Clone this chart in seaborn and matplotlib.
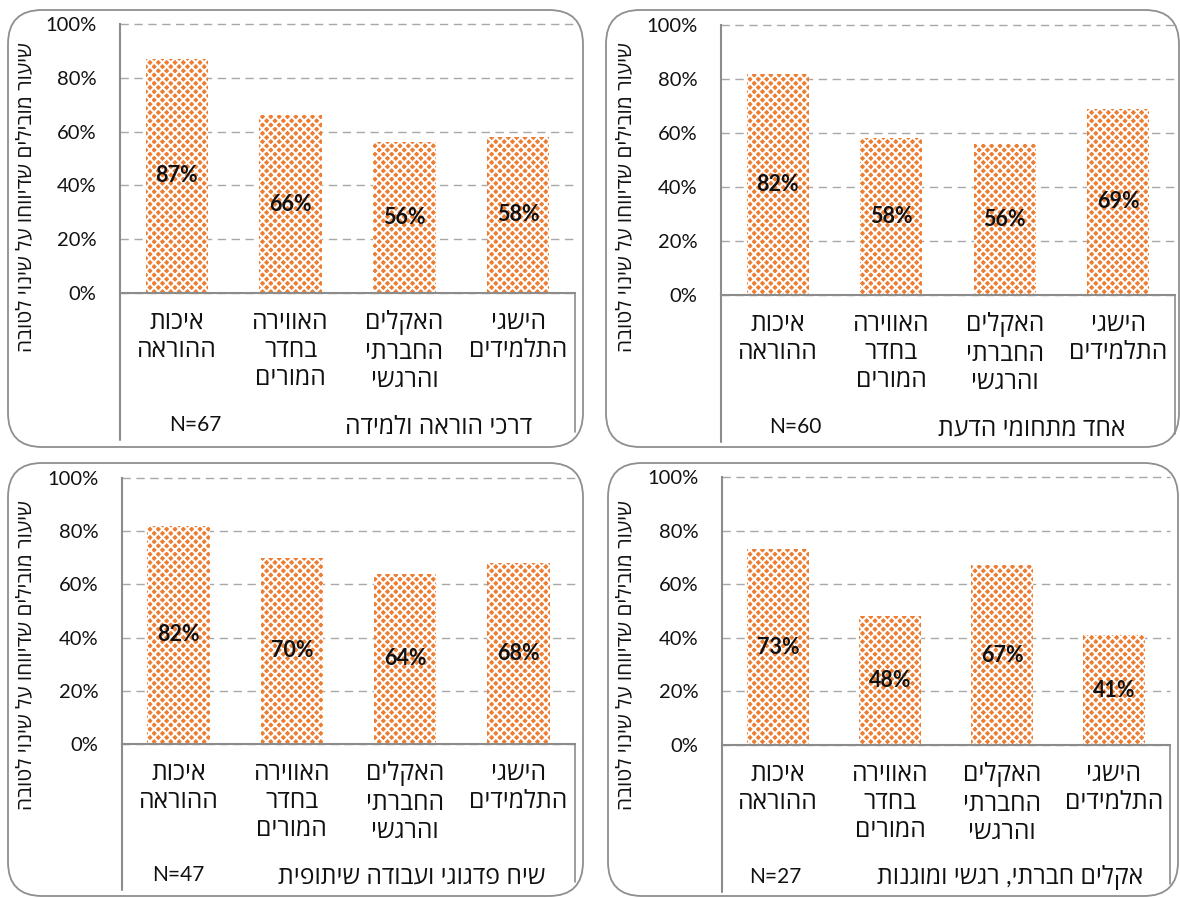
import matplotlib
matplotlib.use("Agg")
import matplotlib.pyplot as plt
import seaborn as sns
import pandas as pd
from matplotlib.patches import FancyBboxPatch
from matplotlib.lines import Line2D
from matplotlib.transforms import IdentityTransform
from matplotlib.ticker import PercentFormatter

# ---- data ----
categories = ["איכות\nההוראה", "האווירה\nבחדר\nהמורים", "האקלים\nהחברתי\nוהרגשי", "הישגי\nהתלמידים"]
panel_titles = ["דרכי הוראה ולמידה", "אחד מתחומי הדעת", "שיח פדגוגי ועבודה שיתופית", "אקלים חברתי, רגשי ומוגנות"]
panel_n = [67, 60, 47, 27]
vals_teaching = [0.87, 0.66, 0.56, 0.58]
vals_subject = [0.82, 0.58, 0.56, 0.69]
vals_dialogue = [0.82, 0.70, 0.64, 0.68]
vals_climate = [0.73, 0.48, 0.67, 0.41]
y_label = "שיעור מובילים שדיווחו על שינוי לטובה"
y_ticks = [0.0, 0.2, 0.4, 0.6, 0.8, 1.0]

panel_values = [vals_teaching, vals_subject, vals_dialogue, vals_climate]


def rtl(text):
    """matplotlib lays text out left-to-right; reverse each Hebrew line."""
    return "\n".join(line[::-1] for line in text.split("\n"))


sns.set_theme(style="white")
plt.rcParams["font.family"] = ["Lato", "Open Sans", "Liberation Sans", "DejaVu Sans"]
plt.rcParams["hatch.linewidth"] = 1.5

W, H = 1180, 898
fig = plt.figure(figsize=(W / 100, H / 100), dpi=100)
fig.patch.set_facecolor("white")

BAR = "#ED7D31"
SPINE = "#8C8C8C"
FRAME = "#8F8F8F"
TEXT = "#111111"
HEB_SIZE = 17.8

# layout of each panel in pixels (left, top, right, bottom)
layout = [
    dict(ax=(120, 24, 575, 293), box=(8, 10, 583, 447), tbottom=440, n_x=195, t_right=532, foot_y=425, ylab=(25, 197)),
    dict(ax=(721, 25, 1175, 295), box=(606, 10, 1179, 447), tbottom=442, n_x=795, t_right=1125, foot_y=427, ylab=(625, 197)),
    dict(ax=(122, 478, 575, 744), box=(8, 463, 583, 896), tbottom=890, n_x=178, t_right=545, foot_y=875, ylab=(25, 655)),
    dict(ax=(722, 477, 1170, 745), box=(608, 463, 1178, 896), tbottom=892, n_x=775, t_right=1143, foot_y=877, ylab=(625, 655)),
]


def fx(x):
    return x / W


def fy(y):
    return 1 - y / H


for vals, title, n, lay in zip(panel_values, panel_titles, panel_n, layout):
    # rounded frame around the panel
    bx0, by0, bx1, by1 = lay["box"]
    frame = FancyBboxPatch((bx0, H - by1), bx1 - bx0, by1 - by0,
                           boxstyle="round,pad=0,rounding_size=34",
                           transform=IdentityTransform(), facecolor="white",
                           edgecolor=FRAME, linewidth=1.3, zorder=0)
    fig.add_artist(frame)

    l, t, r, b = lay["ax"]
    ax = fig.add_axes([fx(l), fy(b), fx(r) - fx(l), (b - t) / H])
    ax.set_facecolor("none")

    df = pd.DataFrame({"cat": [rtl(c) for c in categories], "val": vals})
    sns.barplot(data=df, x="cat", y="val", ax=ax, color=BAR, width=0.55,
                saturation=1, linewidth=0, edgecolor="white")
    for p in ax.patches:
        p.set_hatch("xxxx")
        p.set_edgecolor("white")
        p.set_linewidth(0)
        p.set_facecolor(BAR)

    for p, v in zip(ax.patches, vals):
        ax.text(p.get_x() + p.get_width() / 2, v / 2, f"{round(v * 100)}%",
                ha="center", va="center", fontsize=15.5, fontweight="bold",
                color=TEXT, family=["Lato", "DejaVu Sans"])

    ax.set_ylim(0, 1)
    ax.set_yticks(y_ticks)
    ax.yaxis.set_major_formatter(PercentFormatter(1.0, decimals=0))
    ax.tick_params(axis="y", length=0, pad=17, labelsize=14.5, labelcolor=TEXT)
    ax.tick_params(axis="x", length=0, pad=12, labelsize=HEB_SIZE, labelcolor=TEXT)
    for lab in ax.get_xticklabels():
        lab.set_linespacing(1.27)
        lab.set_multialignment("center")
    ax.set_xlabel("")
    ax.set_ylabel("")

    ax.yaxis.grid(True, linestyle=(0, (6, 4)), color="#A8A8A8", linewidth=1)
    for gl in ax.get_ygridlines():
        gl.set_clip_on(False)
    ax.set_axisbelow(True)

    for side in ["top", "right"]:
        ax.spines[side].set_visible(False)
    for side in ["left", "bottom"]:
        ax.spines[side].set_color(SPINE)
        ax.spines[side].set_linewidth(1.5)

    # category table below the bars
    fig.add_artist(Line2D([fx(l), fx(l)], [fy(b), fy(lay["tbottom"])],
                          color=SPINE, linewidth=1.5))
    fig.add_artist(Line2D([fx(r), fx(r)], [fy(b), fy(lay["tbottom"] - 8)],
                          color=SPINE, linewidth=1.2))

    fig.text(fx(lay["n_x"]), fy(lay["foot_y"]), f"N={n}", ha="center",
             va="center", fontsize=15, color=TEXT)
    fig.text(fx(lay["t_right"]), fy(lay["foot_y"] + 1), rtl(title), ha="right",
             va="center", fontsize=HEB_SIZE, color=TEXT)

    yx, yy = lay["ylab"]
    fig.text(fx(yx), fy(yy), rtl(y_label), rotation=90, ha="center",
             va="center", fontsize=15, color=TEXT)

fig.savefig("out.png", dpi=100, facecolor="white")
